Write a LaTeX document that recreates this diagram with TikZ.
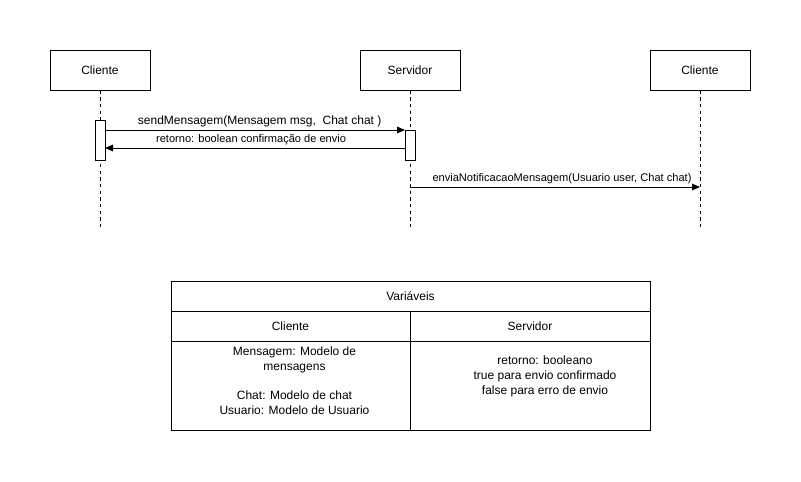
\documentclass[tikz,border=0pt]{standalone}
\usepackage{fontspec}
\setmainfont{Liberation Sans}
\usetikzlibrary{arrows.meta}
\begin{document}
\begin{tikzpicture}[x=0.75pt,y=-0.75pt,
  every node/.style={font=\fontsize{9}{11}\selectfont},
  actor/.style={draw,line width=0.75pt,minimum width=75pt,minimum height=30pt,inner sep=0pt},
  activ/.style={draw,fill=white,line width=0.75pt,minimum width=7.5pt,inner sep=0pt},
  life/.style={line width=0.75pt,dash pattern=on 2.5pt off 2.5pt},
  msg/.style={line width=0.75pt,-{Triangle[length=6pt,width=5pt]}},
  lbl/.style={inner sep=1pt},
  small/.style={font=\fontsize{8.3}{10}\selectfont},
  cell/.style={draw,line width=0.75pt,inner sep=0pt,align=center}]
\useasboundingbox (0,0) rectangle (801,482);
% actors
\node[actor] (c1) at (100,70) {Cliente};
\node[actor] (s) at (410,70) {Servidor};
\node[actor] (c2) at (700,70) {Cliente};
\coordinate (c1e) at (100,230);
\coordinate (se) at (410,230);
\coordinate (c2e) at (700,230);
\draw[life] (c1) -- (c1e);
\draw[life] (s) -- (se);
\draw[life] (c2) -- (c2e);
% activations
\node[activ,minimum height=30pt] (a1) at (100,140) {};
\node[activ,minimum height=22.5pt] (a2) at (410,145) {};
% messages
\coordinate (m1s) at (105,130);
\coordinate (m1e) at (405,130);
\draw[msg] (m1s) -- node[lbl,above=1pt,xshift=3.5pt] {sendMensagem(Mensagem msg,\ \ Chat chat )} (m1e);
\coordinate (m2s) at (405,148);
\coordinate (m2e) at (105,148);
\draw[msg] (m2s) -- node[lbl,above=1pt,pos=0.513,small] {retorno: boolean confirmação de envio} (m2e);
\coordinate (m3s) at (410,187);
\coordinate (m3e) at (700,187);
\draw[msg] (m3s) -- node[lbl,above=1pt,pos=0.5,xshift=5.25pt,small] {enviaNotificacaoMensagem(Usuario user, Chat chat)} (m3e);
% table
\node[cell,minimum width=359.25pt,minimum height=22.5pt] (th) at (410.5,296) {Variáveis};
\node[cell,minimum width=179.25pt,minimum height=22.5pt] (tc) at (290.5,326) {Cliente};
\node[cell,minimum width=180pt,minimum height=22.5pt] (ts) at (530,326) {Servidor};
\node[cell,minimum width=179.25pt,minimum height=66.75pt] (bc) at (290.5,385.5) {};
\node[cell,minimum width=180pt,minimum height=66.75pt] (bs) at (530,385.5) {};
\node[align=center,inner sep=0pt,anchor=north] (bct) at (294.5,347) {Mensagem: Modelo de\\mensagens\\[11pt]Chat: Modelo de chat\\Usuario: Modelo de Usuario};
\node[align=center,inner sep=0pt,anchor=north] (bst) at (545,356) {retorno: booleano\\true para envio confirmado\\false para erro de envio};
\end{tikzpicture}
\end{document}
